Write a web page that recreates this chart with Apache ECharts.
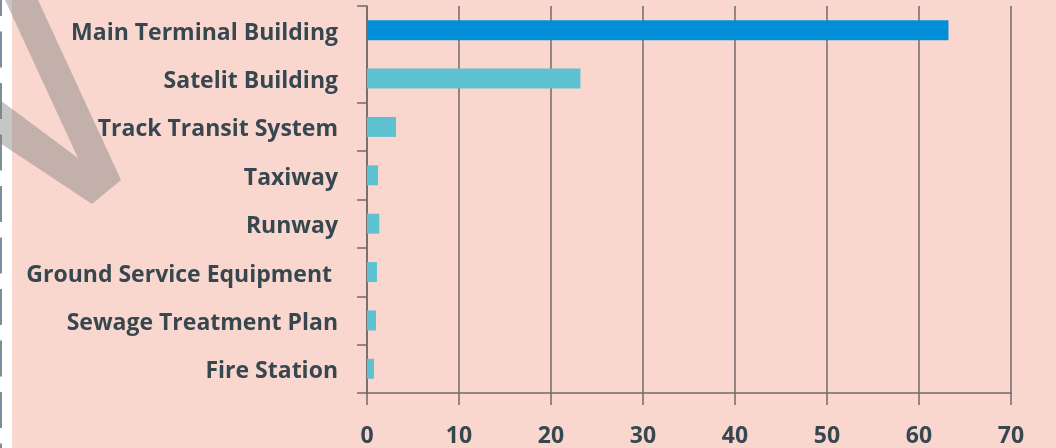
<!DOCTYPE html>
<html>
<head>
<meta charset="utf-8">
<script src="https://cdn.jsdelivr.net/npm/echarts@6/dist/echarts.min.js"></script>
<style>
html,body{margin:0;padding:0;background:#fff;}
#c{width:1056px;height:448px;}
</style>
</head>
<body>
<div id="c"></div>
<script>
const categories = ["Main Terminal Building","Satelit Building","Track Transit System","Taxiway","Runway","Ground Service Equipment ","Sewage Treatment Plan","Fire Station"];
const values = [63.2, 23.2, 3.15, 1.2, 1.34, 1.09, 0.98, 0.76];
const xTicks = [0, 10, 20, 30, 40, 50, 60, 70];

const highlightColor = '#008ED6';
const baseColor = '#5FC2D1';
const textColor = '#37474F';
const lineColor = '#716a67';

const chart = echarts.init(document.getElementById('c'), null, {renderer:'canvas'});
chart.setOption({
  backgroundColor: '#F9D7CE',
  animation: false,
  grid: {left: 367, right: 45, top: 6, bottom: 52, containLabel: false},
  xAxis: {
    type: 'value',
    min: xTicks[0],
    max: xTicks[xTicks.length - 1],
    interval: xTicks[1] - xTicks[0],
    axisLine: {show: true, lineStyle: {color: lineColor, width: 1.5}},
    axisTick: {show: true, length: 12, lineStyle: {color: lineColor, width: 1.5}},
    splitLine: {show: true, lineStyle: {color: lineColor, width: 1.5}},
    axisLabel: {color: textColor, fontFamily: 'Open Sans', fontWeight: 'bold', fontSize: 23, margin: 32}
  },
  yAxis: {
    type: 'category',
    inverse: true,
    data: categories,
    axisLine: {show: true, lineStyle: {color: lineColor, width: 1.5}},
    axisTick: {show: true, length: 10, lineStyle: {color: lineColor, width: 1.5},
      interval: function (idx) { return idx !== 1; }},
    axisLabel: {color: textColor, fontFamily: 'Open Sans', fontWeight: 'bold', fontSize: 23, margin: 29,
      padding: [0, 0, 0, 0], verticalAlign: 'top', lineHeight: 6}
  },
  series: [{
    type: 'bar',
    data: values.map((v, i) => ({value: v, itemStyle: {color: i === 0 ? highlightColor : baseColor}})),
    barWidth: 20
  }],
  graphic: [
    {type: 'rect', left: 0, top: 0, shape: {width: 12, height: 448}, style: {fill: '#ffffff'}, z: 1},
    {type: 'line', shape: {x1: 1, y1: -20, x2: 1, y2: 448}, style: {stroke: '#7f8c99', lineWidth: 2, lineDash: [36, 15.5]}, z: 2},
    {type: 'polygon', shape: {points: [[5,0],[38,0],[121,180],[92,204],[0,143],[0,100],[78,158]]},
      style: {fill: 'rgba(128,128,128,0.45)'}, z: 3}
  ]
});
</script>
</body>
</html>
